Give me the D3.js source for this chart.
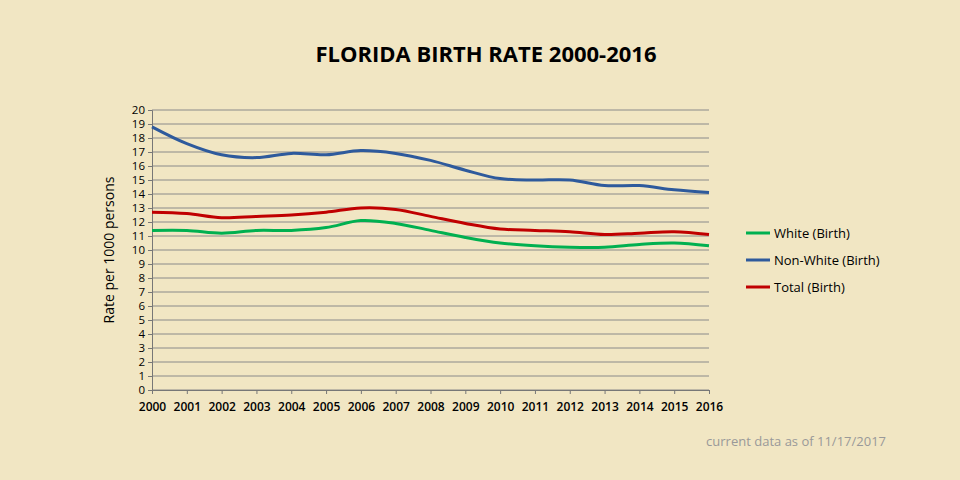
<!DOCTYPE html>
<html><head><meta charset="utf-8">
<script src="https://cdn.jsdelivr.net/npm/d3@7"></script>
<style>body{margin:0;background:#f1e6c3;font-family:"Open Sans",Calibri,sans-serif}</style>
</head><body><div id="chart"></div>
<script>
var years = d3.range(2000, 2017);
var white = [11.4,11.4,11.2,11.4,11.4,11.6,12.1,11.9,11.4,10.9,10.5,10.3,10.2,10.2,10.4,10.5,10.3];
var nonWhite = [18.8,17.6,16.8,16.6,16.9,16.8,17.1,16.9,16.4,15.7,15.1,15.0,15.0,14.6,14.6,14.3,14.1];
var total = [12.7,12.6,12.3,12.4,12.5,12.7,13.0,12.9,12.4,11.9,11.5,11.4,11.3,11.1,11.2,11.3,11.1];
var series = [
  {name: "White (Birth)", values: white, color: "#00b050"},
  {name: "Non-White (Birth)", values: nonWhite, color: "#2e5a9c"},
  {name: "Total (Birth)", values: total, color: "#c00000"}
];

var svg = d3.select("#chart").append("svg").attr("width", 960).attr("height", 480);
var margin = {left: 152, top: 110, right: 251, bottom: 90};
var width = 960 - margin.left - margin.right;
var height = 480 - margin.top - margin.bottom;
var g = svg.append("g").attr("transform", "translate(" + margin.left + "," + margin.top + ")");

var x = d3.scaleLinear().domain([2000, 2016]).range([0, width]);
var y = d3.scaleLinear().domain([0, 20]).range([height, 0]);

g.selectAll(".grid").data(d3.range(0, 21)).enter().append("line")
  .attr("x1", 0).attr("x2", width)
  .attr("y1", d => y(d)).attr("y2", d => y(d))
  .attr("stroke", "#8a8a8a").attr("stroke-width", 1);

var yAxis = g.append("g").call(d3.axisLeft(y).ticks(20).tickSize(4).tickFormat(d3.format("d")));
var xAxis = g.append("g").attr("transform", "translate(0," + height + ")")
  .call(d3.axisBottom(x).ticks(16).tickSize(4).tickPadding(8).tickFormat(d3.format("d")));
[yAxis, xAxis].forEach(function(a) {
  a.select(".domain").attr("stroke", "#777");
  a.selectAll(".tick line").attr("stroke", "#777");
  a.selectAll("text").attr("font-size", 11.5).attr("fill", "#000").attr("font-family", "Open Sans");
});
xAxis.selectAll("text").attr("font-size", 12).attr("font-weight", 600);

var line = d3.line().x((d, i) => x(years[i])).y(d => y(d)).curve(d3.curveCatmullRom);
series.forEach(function(s) {
  g.append("path").datum(s.values).attr("d", line)
    .attr("fill", "none").attr("stroke", s.color).attr("stroke-width", 3);
});

svg.append("text").attr("x", 486).attr("y", 62).attr("text-anchor", "middle")
  .attr("font-size", 22).attr("font-weight", "bold").text("FLORIDA BIRTH RATE 2000-2016");
svg.append("text").attr("transform", "translate(114,250) rotate(-90)")
  .attr("text-anchor", "middle").attr("font-size", 14).text("Rate per 1000 persons");

var legend = svg.append("g").attr("transform", "translate(746,233)");
series.forEach(function(s, i) {
  var r = legend.append("g").attr("transform", "translate(0," + i * 27 + ")");
  r.append("line").attr("x1", 0).attr("x2", 24).attr("stroke", s.color).attr("stroke-width", 3);
  r.append("text").attr("x", 28).attr("y", 5).attr("font-size", 13).text(s.name);
});

svg.append("text").attr("x", 886).attr("y", 446).attr("text-anchor", "end")
  .attr("font-size", 13).attr("fill", "#999").text("current data as of 11/17/2017");
</script></body></html>
